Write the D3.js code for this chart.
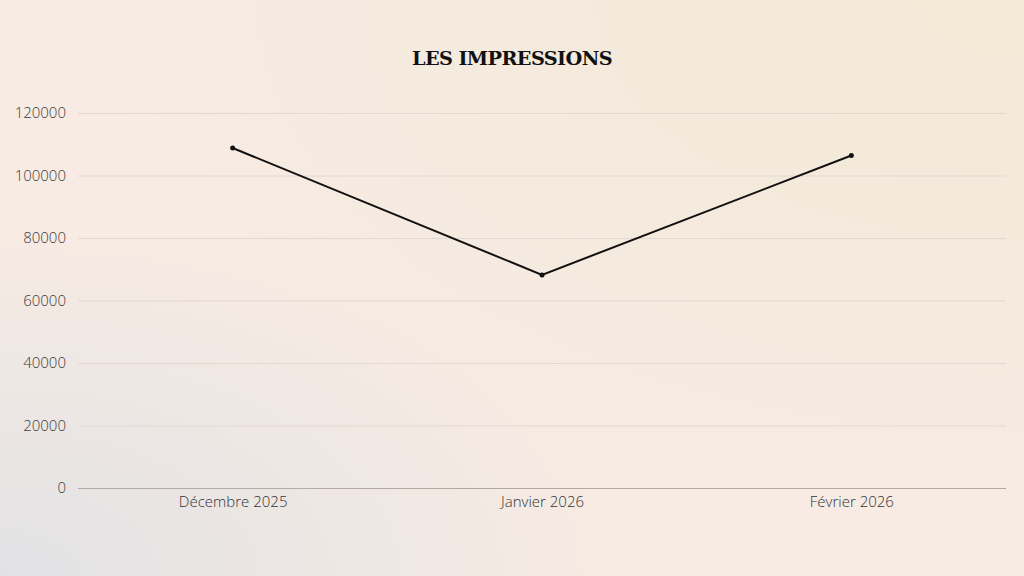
<!DOCTYPE html>
<html><head><meta charset="utf-8">
<script src="https://cdn.jsdelivr.net/npm/d3@7"></script>
<style>html,body{margin:0;padding:0;background:#f7ebe3;}svg{display:block;}</style>
</head><body>
<svg id="c" width="1024" height="576"></svg>
<script>
const categories = ["Décembre 2025", "Janvier 2026", "Février 2026"];
const impressions = [108800, 68200, 106400];
const yTicks = [0, 20000, 40000, 60000, 80000, 100000, 120000];
const title = "LES IMPRESSIONS";

const svg = d3.select("#c");
const W = 1024, H = 576;
const defs = svg.append("defs");
const g1 = defs.append("radialGradient").attr("id","tr").attr("cx","1").attr("cy","0").attr("r","0.9");
g1.append("stop").attr("offset","0").attr("stop-color","#f2e9d6").attr("stop-opacity",1);
g1.append("stop").attr("offset","1").attr("stop-color","#f2e9d6").attr("stop-opacity",0);
const g2 = defs.append("radialGradient").attr("id","bl").attr("cx","0").attr("cy","1").attr("r","0.6");
g2.append("stop").attr("offset","0").attr("stop-color","#e2e2e5").attr("stop-opacity",1);
g2.append("stop").attr("offset","1").attr("stop-color","#e2e2e5").attr("stop-opacity",0);
svg.append("rect").attr("width",W).attr("height",H).attr("fill","#f7ebe3");
svg.append("rect").attr("width",W).attr("height",H).attr("fill","url(#tr)");
svg.append("rect").attr("width",W).attr("height",H).attr("fill","url(#bl)");

const m = {left:78, right:1006, top:113, bottom:488};
const x = d3.scalePoint().domain(categories).range([m.left, m.right]).padding(0.5);
const y = d3.scaleLinear().domain([0,120000]).range([m.bottom, m.top]);

svg.append("text").attr("x",512).attr("y",65).attr("text-anchor","middle")
  .attr("font-family","'DejaVu Serif', serif").attr("font-weight","bold").attr("font-size",19)
  .attr("fill","#111").attr("letter-spacing","-0.6").attr("textLength",200).attr("lengthAdjust","spacingAndGlyphs").text(title);

const ya = svg.append("g").attr("transform",`translate(${m.left},0)`)
  .call(d3.axisLeft(y).tickValues(yTicks).tickSize(-(m.right-m.left)).tickPadding(12).tickFormat(d3.format("d")));
ya.select(".domain").remove();
ya.selectAll(".tick line").attr("stroke", d => d===0 ? "#b3aaa4" : "#e2d8d1").attr("stroke-width",1);
ya.selectAll(".tick text").attr("font-family","'Open Sans', sans-serif").attr("font-weight",300).attr("font-size",15).attr("fill","#3c3c3c");

const xa = svg.append("g").attr("transform",`translate(0,${m.bottom})`)
  .call(d3.axisBottom(x).tickSize(0).tickPadding(8));
xa.select(".domain").remove();
xa.selectAll(".tick text").attr("font-family","'Open Sans', sans-serif").attr("font-weight",300).attr("font-size",15).attr("fill","#333");

const line = d3.line().x((d,i)=>x(categories[i])).y(d=>y(d));
svg.append("path").datum(impressions).attr("d",line).attr("fill","none").attr("stroke","#111").attr("stroke-width",2);
svg.selectAll("circle.pt").data(impressions).enter().append("circle")
  .attr("cx",(d,i)=>x(categories[i])).attr("cy",d=>y(d)).attr("r",2.5).attr("fill","#111");
</script>
</body></html>
